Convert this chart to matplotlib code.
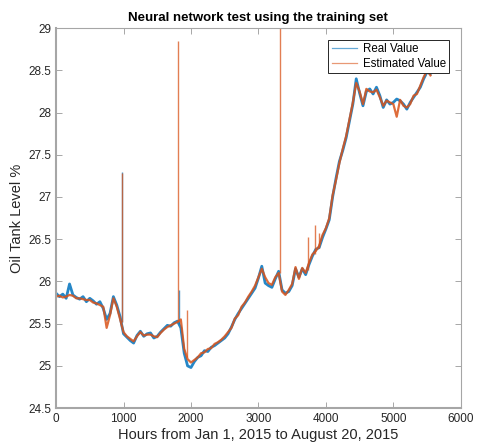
import numpy as np
import matplotlib
matplotlib.use('Agg')
import matplotlib.pyplot as plt

hours = np.arange(0, 5600, 50)

real_value = [
    25.86, 25.82, 25.85, 25.80, 25.97, 25.84, 25.81, 25.79, 25.82, 25.76,
    25.80, 25.77, 25.73, 25.76, 25.68, 25.55, 25.62, 25.82, 25.72, 25.58,
    25.38, 25.34, 25.30, 25.27, 25.36, 25.41, 25.35, 25.38, 25.39, 25.33,
    25.35, 25.40, 25.44, 25.48, 25.47, 25.51, 25.53, 25.45, 25.15, 25.00,
    24.98, 25.05, 25.10, 25.12, 25.18, 25.17, 25.22, 25.24, 25.27, 25.30,
    25.33, 25.38, 25.46, 25.55, 25.62, 25.68, 25.74, 25.80, 25.86, 25.92,
    26.04, 26.18, 25.98, 25.95, 25.93, 26.03, 26.12, 25.90, 25.86, 25.88,
    25.95, 26.15, 26.05, 26.15, 26.08, 26.20, 26.30, 26.38, 26.40, 26.52,
    26.62, 26.73, 27.00, 27.22, 27.42, 27.55, 27.70, 27.90, 28.10, 28.40,
    28.23, 28.08, 28.25, 28.28, 28.22, 28.30, 28.20, 28.06, 28.15, 28.10,
    28.12, 28.16, 28.14, 28.10, 28.04, 28.12, 28.18, 28.24, 28.30, 28.40,
    28.48, 28.46,
]

estimated_value = [
    25.82, 25.83, 25.81, 25.82, 25.84, 25.83, 25.80, 25.80, 25.79, 25.78,
    25.78, 25.75, 25.74, 25.72, 25.70, 25.45, 25.60, 25.80, 25.70, 25.55,
    25.40, 25.35, 25.32, 25.29, 25.35, 25.40, 25.36, 25.37, 25.37, 25.35,
    25.34, 25.39, 25.43, 25.46, 25.48, 25.50, 25.52, 25.55, 25.20, 25.08,
    25.04, 25.07, 25.10, 25.15, 25.16, 25.20, 25.21, 25.26, 25.28, 25.31,
    25.35, 25.40, 25.45, 25.56, 25.60, 25.70, 25.75, 25.82, 25.88, 25.95,
    26.05, 26.15, 26.05, 25.98, 25.96, 26.05, 26.10, 25.88, 25.84, 25.90,
    25.97, 26.17, 26.03, 26.16, 26.10, 26.22, 26.32, 26.36, 26.42, 26.55,
    26.63, 26.75, 27.02, 27.20, 27.40, 27.57, 27.72, 27.92, 28.12, 28.35,
    28.25, 28.10, 28.28, 28.25, 28.24, 28.27, 28.18, 28.08, 28.14, 28.12,
    28.10, 27.95, 28.15, 28.08, 28.06, 28.10, 28.20, 28.22, 28.32, 28.42,
    28.50, 28.44,
]

# isolated one-sample spikes: hour, level just before, peak level
real_spike_hours = [980, 1825]
real_spike_base = [25.52, 25.50]
real_spike_peak = [27.30, 25.90]
est_spike_hours = [978, 1810, 1946, 3318, 3728, 3837, 3905]
est_spike_base = [25.52, 25.52, 25.10, 26.10, 26.14, 26.33, 26.40]
est_spike_peak = [27.28, 28.85, 25.66, 29.10, 26.53, 26.67, 26.57]

blue = '#0072BD'
orange = '#D95319'

plt.rcParams['font.family'] = ['Liberation Sans', 'DejaVu Sans']

fig = plt.figure(figsize=(4.79, 4.46), dpi=100)
ax = fig.add_axes([0.117, 0.085, 0.845, 0.852])
ax.plot(hours, real_value, color=blue, linewidth=2.0, alpha=0.85, label='Real Value')
ax.vlines(real_spike_hours, real_spike_base, real_spike_peak, color=blue,
          linewidth=1.0, alpha=0.7)
ax.plot(hours, estimated_value, color=orange, linewidth=1.6, alpha=0.85,
        label='Estimated Value')
ax.vlines(est_spike_hours, est_spike_base, est_spike_peak, color=orange,
          linewidth=1.0, alpha=0.75)

ax.set_xlim(0, 6000)
ax.set_ylim(24.5, 29)
ax.set_xticks(np.arange(0, 6001, 1000))
ax.set_yticks(np.arange(24.5, 29.01, 0.5))
ax.set_yticklabels(['24.5', '25', '25.5', '26', '26.5', '27', '27.5', '28', '28.5', '29'])
ax.tick_params(direction='in', top=True, right=True, length=4, width=0.6,
               color='#999999', labelsize=8.5, labelcolor='#262626')
for s in ax.spines.values():
    s.set_color('#a6a6a6')
    s.set_linewidth(0.8)
ax.spines['left'].set_linewidth(1.5)
ax.spines['bottom'].set_linewidth(1.5)

ax.set_title('Neural network test using the training set', fontsize=9.5,
             fontweight='bold', pad=5)
ax.set_xlabel('Hours from Jan 1, 2015 to August 20, 2015', fontsize=10.5,
              color='#262626', labelpad=2)
ax.set_ylabel('Oil Tank Level %', fontsize=10.5, color='#262626', labelpad=3)

leg = ax.legend(loc='upper right', fontsize=8.3, fancybox=False, framealpha=1,
                edgecolor='#262626', borderaxespad=1.0, handlelength=2.2,
                borderpad=0.3, labelspacing=0.25, handletextpad=0.5)
leg.get_frame().set_linewidth(0.7)
for line in leg.get_lines():
    line.set_linewidth(0.9)
    line.set_alpha(0.6)

plt.savefig('out.png', dpi=100)
